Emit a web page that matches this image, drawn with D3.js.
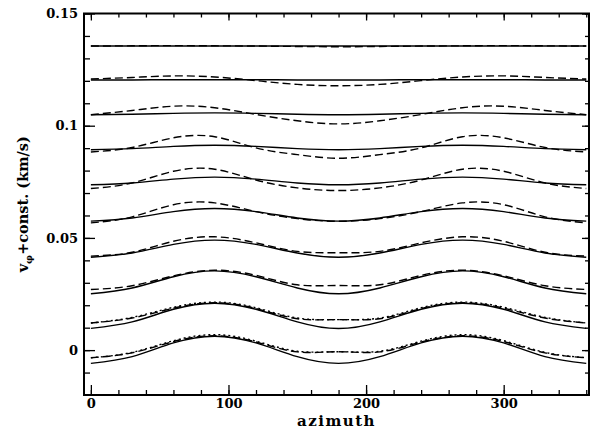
<!DOCTYPE html>
<html>
<head>
<meta charset="utf-8">
<script src="https://cdn.jsdelivr.net/npm/d3@7"></script>
<style>
  body { margin: 0; background: #fff; }
  svg { display: block; }
  .tick text { font-family: "DejaVu Serif", serif; font-weight: bold; font-size: 13px; fill: #000; }
  .tick line { stroke: #000; stroke-width: 1.3; }
</style>
</head>
<body>
<svg id="chart" width="595" height="430"></svg>
<script>
// Azimuth sample points (degrees)
const azimuth = [0, 30, 60, 90, 120, 150, 180, 210, 240, 270, 300, 330, 360];

// Solid curves, one per offset level (bottom to top)
const solid = [
  [-0.0059, -0.0029, 0.0032, 0.0062, 0.0032, -0.0029, -0.0059, -0.0029, 0.0032, 0.0062, 0.0032, -0.0029, -0.0059],
  [0.0097, 0.0126, 0.0182, 0.0209, 0.0182, 0.0126, 0.0096, 0.0126, 0.0182, 0.0209, 0.0182, 0.0126, 0.0097],
  [0.0251, 0.0277, 0.0327, 0.0353, 0.0327, 0.0277, 0.0251, 0.0277, 0.0327, 0.0353, 0.0327, 0.0277, 0.0251],
  [0.0414, 0.0433, 0.0471, 0.0490, 0.0471, 0.0433, 0.0414, 0.0433, 0.0471, 0.0490, 0.0471, 0.0433, 0.0414],
  [0.0575, 0.0589, 0.0617, 0.0631, 0.0617, 0.0589, 0.0575, 0.0589, 0.0617, 0.0631, 0.0617, 0.0589, 0.0575],
  [0.0737, 0.0745, 0.0762, 0.0771, 0.0762, 0.0745, 0.0737, 0.0745, 0.0762, 0.0771, 0.0762, 0.0745, 0.0737],
  [0.0893, 0.0898, 0.0908, 0.0913, 0.0908, 0.0898, 0.0893, 0.0898, 0.0908, 0.0913, 0.0908, 0.0898, 0.0893],
  [0.1049, 0.1051, 0.1055, 0.1057, 0.1055, 0.1051, 0.1049, 0.1051, 0.1055, 0.1057, 0.1055, 0.1051, 0.1049],
  [0.1204, 0.1204, 0.1205, 0.1205, 0.1205, 0.1204, 0.1204, 0.1204, 0.1205, 0.1205, 0.1205, 0.1204, 0.1204],
  [0.1355, 0.1355, 0.1355, 0.1355, 0.1355, 0.1355, 0.1355, 0.1355, 0.1355, 0.1355, 0.1355, 0.1355, 0.1355]
];

// Dashed curves, same offset levels
const dashed = [
  [-0.0034, -0.0012, 0.0038, 0.0064, 0.0036, -0.0008, -0.0007, -0.0008, 0.0036, 0.0064, 0.0038, -0.0012, -0.0034],
  [0.0121, 0.0143, 0.0187, 0.0211, 0.0185, 0.0140, 0.0136, 0.0140, 0.0185, 0.0211, 0.0187, 0.0143, 0.0121],
  [0.0270, 0.0287, 0.0331, 0.0356, 0.0333, 0.0291, 0.0288, 0.0291, 0.0333, 0.0356, 0.0331, 0.0287, 0.0270],
  [0.0419, 0.0436, 0.0485, 0.0505, 0.0478, 0.0440, 0.0434, 0.0440, 0.0478, 0.0505, 0.0485, 0.0436, 0.0419],
  [0.0567, 0.0594, 0.0648, 0.0656, 0.0617, 0.0586, 0.0574, 0.0586, 0.0617, 0.0656, 0.0648, 0.0594, 0.0567],
  [0.0720, 0.0745, 0.0797, 0.0806, 0.0758, 0.0723, 0.0711, 0.0723, 0.0758, 0.0806, 0.0797, 0.0745, 0.0720],
  [0.0883, 0.0903, 0.0946, 0.0951, 0.0901, 0.0871, 0.0855, 0.0871, 0.0901, 0.0951, 0.0946, 0.0903, 0.0883],
  [0.1049, 0.1068, 0.1087, 0.1080, 0.1050, 0.1022, 0.1008, 0.1022, 0.1050, 0.1080, 0.1087, 0.1068, 0.1049],
  [0.1208, 0.1215, 0.1222, 0.1217, 0.1201, 0.1184, 0.1178, 0.1184, 0.1201, 0.1217, 0.1222, 0.1215, 0.1208],
  [0.1355, 0.1356, 0.1357, 0.1356, 0.1355, 0.1353, 0.1352, 0.1353, 0.1355, 0.1356, 0.1357, 0.1356, 0.1355]
];

// Dotted curves, only on the two lowest levels
const dotted = [
  [-0.0034, -0.0010, 0.0042, 0.0069, 0.0040, -0.0005, -0.0007, -0.0005, 0.0040, 0.0069, 0.0042, -0.0010, -0.0034],
  [0.0121, 0.0146, 0.0191, 0.0214, 0.0189, 0.0143, 0.0136, 0.0143, 0.0189, 0.0214, 0.0191, 0.0146, 0.0121]
];

const xTicks = [0, 100, 200, 300];
const xTickLabels = ["0", "100", "200", "300"];
const xMinorTicks = d3.range(0, 361, 20);
const yTicks = [0, 0.05, 0.1, 0.15];
const yTickLabels = ["0", "0.05", "0.1", "0.15"];
const yMinorTicks = d3.range(-0.01, 0.1501, 0.01);

const svg = d3.select("#chart");
const frame = { left: 84, right: 589, top: 13.5, bottom: 395 };

const x = d3.scaleLinear().domain([-5, 362]).range([frame.left, frame.right]);
const y = d3.scaleLinear().domain([-0.02, 0.15]).range([frame.bottom, frame.top]);

const line = d3.line()
  .x((d, i) => x(azimuth[i]))
  .y(d => y(d))
  .curve(d3.curveNatural);

const curves = svg.append("g").attr("fill", "none").attr("stroke", "#000");

curves.selectAll("path.solid").data(solid).join("path")
  .attr("class", "solid")
  .attr("stroke-width", 1.4)
  .attr("d", line);

curves.selectAll("path.dashed").data(dashed).join("path")
  .attr("class", "dashed")
  .attr("stroke-width", 1.4)
  .attr("stroke-dasharray", "8,4")
  .attr("d", line);

curves.selectAll("path.dotted").data(dotted).join("path")
  .attr("class", "dotted")
  .attr("stroke-width", 1.4)
  .attr("stroke-dasharray", "2,3")
  .attr("d", line);

// Axes: inward ticks on all four sides
function strip(g) { g.select(".domain").remove(); }

svg.append("g").attr("transform", `translate(0,${frame.bottom})`)
  .call(d3.axisBottom(x).tickValues(xMinorTicks).tickSize(-5).tickFormat(""))
  .call(strip);
svg.append("g").attr("transform", `translate(0,${frame.bottom})`)
  .call(d3.axisBottom(x).tickValues(xTicks).tickSize(-10).tickPadding(4)
    .tickFormat((d, i) => xTickLabels[i]))
  .call(strip);

svg.append("g").attr("transform", `translate(0,${frame.top})`)
  .call(d3.axisTop(x).tickValues(xMinorTicks).tickSize(-4).tickFormat(""))
  .call(strip);
svg.append("g").attr("transform", `translate(0,${frame.top})`)
  .call(d3.axisTop(x).tickValues(xTicks).tickSize(-7).tickFormat(""))
  .call(strip);

svg.append("g").attr("transform", `translate(${frame.left},0)`)
  .call(d3.axisLeft(y).tickValues(yMinorTicks).tickSize(-6).tickFormat(""))
  .call(strip);
svg.append("g").attr("transform", `translate(${frame.left},0)`)
  .call(d3.axisLeft(y).tickValues(yTicks).tickSize(-11).tickPadding(6)
    .tickFormat((d, i) => yTickLabels[i]))
  .call(strip);

svg.append("g").attr("transform", `translate(${frame.right},0)`)
  .call(d3.axisRight(y).tickValues(yMinorTicks).tickSize(-4).tickFormat(""))
  .call(strip);
svg.append("g").attr("transform", `translate(${frame.right},0)`)
  .call(d3.axisRight(y).tickValues(yTicks).tickSize(-7).tickFormat(""))
  .call(strip);

// Frame
svg.append("rect")
  .attr("x", frame.left).attr("y", frame.top)
  .attr("width", frame.right - frame.left).attr("height", frame.bottom - frame.top)
  .attr("fill", "none").attr("stroke", "#000").attr("stroke-width", 2);

// Axis titles
svg.append("text")
  .attr("x", (frame.left + frame.right) / 2).attr("y", 426)
  .attr("text-anchor", "middle")
  .attr("font-family", "DejaVu Serif, serif").attr("font-weight", "bold")
  .attr("font-size", 15).attr("letter-spacing", 1.5)
  .text("azimuth");

const yLabel = svg.append("text")
  .attr("transform", `translate(28,${(frame.top + frame.bottom) / 2}) rotate(-90)`)
  .attr("text-anchor", "middle")
  .attr("font-family", "DejaVu Serif, serif").attr("font-weight", "bold")
  .attr("font-size", 14.5);
yLabel.append("tspan").text("v");
yLabel.append("tspan").attr("font-size", 10).attr("dy", 4).text("φ");
yLabel.append("tspan").attr("dy", -4).text("+const. (km/s)");
</script>
</body>
</html>
